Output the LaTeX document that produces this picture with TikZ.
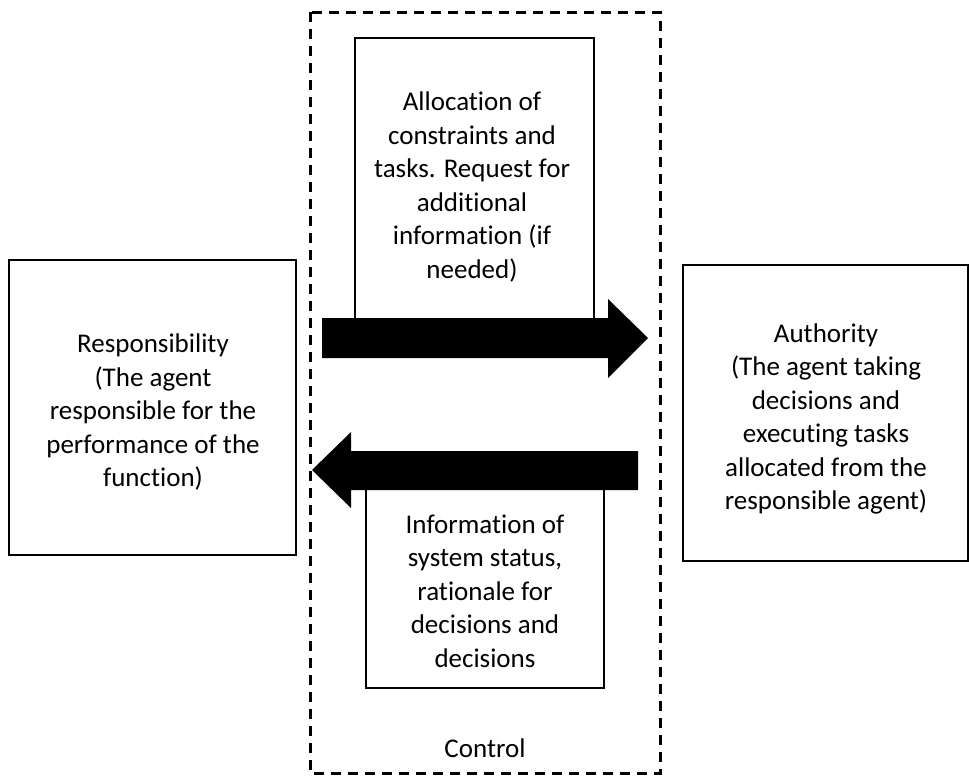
\documentclass[tikz,border=0pt]{standalone}
\usepackage{fontspec}
\setmainfont{Carlito}[Ligatures=NoCommon]
\begin{document}
\begin{tikzpicture}[x=1pt,y=-1pt,
  box/.style={draw=black,line width=2.8pt,fill=white,inner sep=0pt},
  caption/.style={align=center,inner sep=0pt,font=\fontsize{27}{33.5}\selectfont},
  blockarrow/.style={fill=black,draw=none},
  ctrl/.style={draw=black,line width=3pt,dash pattern=on 10pt off 7pt}]
\useasboundingbox (0,0) rectangle (969,777);

% dashed control region
\draw[ctrl] (310,12) rectangle (660,773);
\node[caption] (control) at (485,748) {Control};

% side agents
\node[box,minimum width=287pt,minimum height=295pt] (resp) at (152.5,407.5) {};
\node[caption] (resptext) at (153,412)
  {Responsibility\\(The agent\\responsible for the\\performance of the\\function)};
\node[box,minimum width=285pt,minimum height=296pt] (auth) at (825.5,413) {};
\node[caption] (authtext) at (826,419)
  {Authority\\(The agent taking\\decisions and\\executing tasks\\allocated from the\\responsible agent)};

% message boxes
\node[box,minimum width=239pt,minimum height=292pt] (alloc) at (474.5,184) {};
\node[caption] (alloctext) at (472,187)
  {Allocation of\\constraints and\\tasks. Request for\\additional\\information (if\\needed)};
\node[box,minimum width=238pt,minimum height=208pt] (info) at (485,584) {};
\node[caption] (infotext) at (485,591)
  {Information of\\system status,\\rationale for\\decisions and\\decisions};

% flow from responsibility to authority
\coordinate (rtail) at (322,338);
\coordinate (rtip) at (648,338);
\fill[blockarrow] (rtail) ++(0,-20) -- (608,318) -- (608,299) -- (rtip)
  -- (608,378) -- (608,358) -- (322,358) -- cycle;

% flow from authority back to responsibility
\coordinate (ltail) at (638,470);
\coordinate (ltip) at (312,470);
\fill[blockarrow] (ltail) ++(0,-19) -- (351,451) -- (351,432) -- (ltip)
  -- (351,508) -- (351,490) -- (638,490) -- cycle;
\end{tikzpicture}
\end{document}
